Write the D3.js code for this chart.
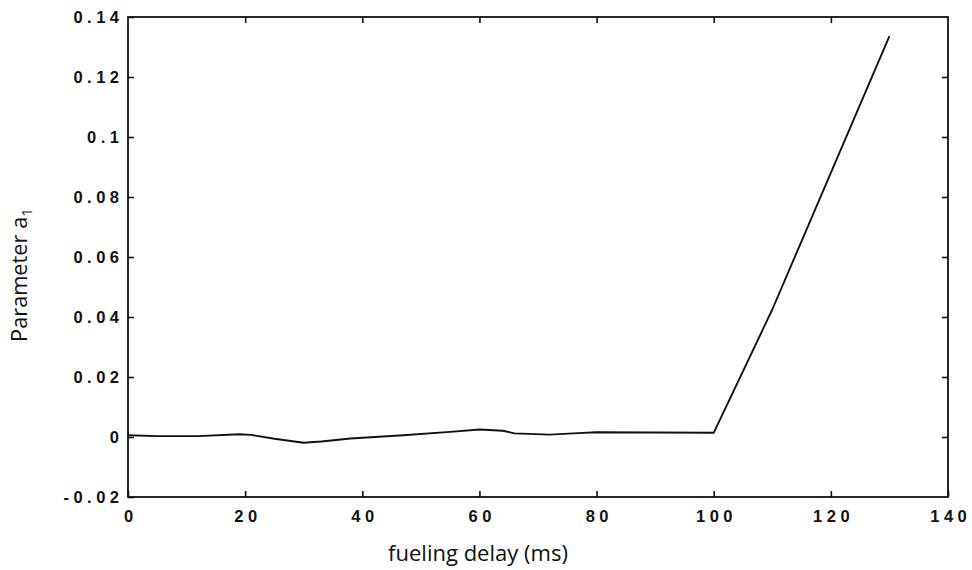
<!DOCTYPE html>
<html>
<head>
<meta charset="utf-8">
<script src="https://cdn.jsdelivr.net/npm/d3@7"></script>
<style>
  html, body { margin: 0; padding: 0; background: #fff; }
  svg { display: block; }
</style>
</head>
<body>
<svg id="chart" width="972" height="570"></svg>
<script>
// ---- data ----
const delay = [0, 5, 12, 19, 21, 25, 30, 33, 38, 47, 55, 60, 64, 66, 72, 76, 80, 100, 110, 130];
const a1 = [0.0006, 0.0003, 0.0003, 0.0009, 0.0007, -0.0006, -0.0019, -0.0015, -0.0005, 0.0006,
            0.0017, 0.0025, 0.0021, 0.0012, 0.0008, 0.0012, 0.0016, 0.0014, 0.0425, 0.1336];
const xTicks = [0, 20, 40, 60, 80, 100, 120, 140];
const xTickLabels = ["0", "20", "40", "60", "80", "100", "120", "140"];
const yTicks = [-0.02, 0, 0.02, 0.04, 0.06, 0.08, 0.1, 0.12, 0.14];
const yTickLabels = ["-0.02", "0", "0.02", "0.04", "0.06", "0.08", "0.1", "0.12", "0.14"];
const xTitle = "fueling delay (ms)";
const yTitle = "Parameter a";
const yTitleSub = "1";

// ---- layout ----
const L = 128, R = 948, T = 17, B = 497;
const svg = d3.select("#chart");
const x = d3.scaleLinear().domain([0, 140]).range([L, R]);
const y = d3.scaleLinear().domain([-0.02, 0.14]).range([B, T]);
const ink = "#111";
const tickFont = "'Liberation Sans', Arial, sans-serif";
const ls = 4.5;

// axes
const innerX = xTicks.slice(1, -1);
const innerY = yTicks.slice(1, -1);

const gB = svg.append("g").attr("transform", `translate(0,${B})`)
  .call(d3.axisBottom(x).tickValues(xTicks).tickSize(-6).tickPadding(13)
    .tickFormat((d, i) => xTickLabels[i]));
const gL = svg.append("g").attr("transform", `translate(${L},0)`)
  .call(d3.axisLeft(y).tickValues(yTicks).tickSize(-6).tickPadding(9)
    .tickFormat((d, i) => yTickLabels[i]));
const gT = svg.append("g").attr("transform", `translate(0,${T})`)
  .call(d3.axisTop(x).tickValues(innerX).tickSize(-6).tickFormat(""));
const gR = svg.append("g").attr("transform", `translate(${R},0)`)
  .call(d3.axisRight(y).tickValues(innerY).tickSize(-6).tickFormat(""));

[gB, gL, gT, gR].forEach(g => {
  g.select(".domain").remove();
  g.selectAll(".tick line").attr("stroke", ink).attr("stroke-width", 1.6);
  g.selectAll(".tick text")
    .attr("fill", ink)
    .style("font-family", tickFont)
    .style("font-size", "16.5px")
    .style("font-weight", "bold")
    .style("letter-spacing", ls + "px");
});
gB.selectAll(".tick text").attr("dx", ls / 2);
gL.selectAll(".tick text").attr("dx", ls).attr("dy", "0.36em");

// frame
svg.append("rect")
  .attr("x", L).attr("y", T).attr("width", R - L).attr("height", B - T)
  .attr("fill", "none").attr("stroke", ink).attr("stroke-width", 1.8);

// data line
const pts = delay.map((d, i) => [d, a1[i]]);
svg.append("path")
  .datum(pts)
  .attr("fill", "none")
  .attr("stroke", ink)
  .attr("stroke-width", 1.9)
  .attr("stroke-linejoin", "round")
  .attr("d", d3.line().x(d => x(d[0])).y(d => y(d[1])));

// titles
const titleFont = "'Open Sans', 'DejaVu Sans', sans-serif";
function fit(sel, target, base) {
  const len = sel.node().getComputedTextLength();
  sel.style("font-size", (base * target / len) + "px");
}
const xt = svg.append("text")
  .attr("x", (388 + 568) / 2).attr("y", 561)
  .attr("text-anchor", "middle")
  .attr("fill", ink)
  .style("font-family", titleFont)
  .style("font-size", "20px")
  .text(xTitle);
fit(xt, 180, 20);

const yt = svg.append("text")
  .attr("transform", `translate(27,${(208 + 342) / 2}) rotate(-90)`)
  .attr("text-anchor", "middle")
  .attr("fill", ink)
  .style("font-family", titleFont)
  .style("font-size", "20px");
yt.append("tspan").text(yTitle);
yt.append("tspan").attr("dy", "0.3em").style("font-size", "0.7em").text(yTitleSub);
fit(yt, 134, 20);
</script>
</body>
</html>
